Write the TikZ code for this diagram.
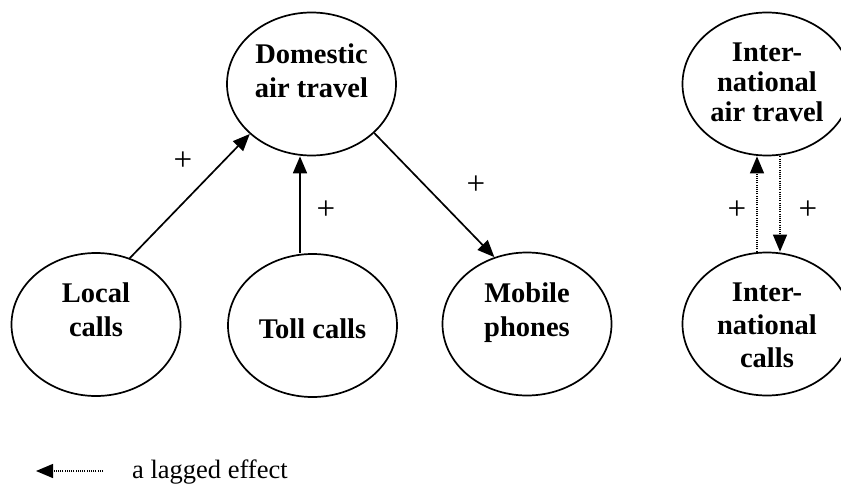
\documentclass[tikz,border=0pt]{standalone}
\usepackage{fontspec}
\setmainfont{Liberation Serif}
\usetikzlibrary{shapes.geometric,arrows.meta}
\begin{document}
\begin{tikzpicture}[x=1pt,y=-1pt,
  bubble/.style={draw,line width=1.7pt,ellipse,minimum width=169pt,minimum height=143pt,inner sep=0pt},
  caption/.style={anchor=north,inner sep=0pt,align=center,font=\bfseries\fontsize{28.5}{34}\selectfont},
  sign/.style={inner sep=0pt,font=\fontsize{33}{33}\selectfont},
  cause/.style={line width=1.7pt,-{Triangle[length=17pt,width=14pt]}},
  lagged/.style={line width=1.3pt,dash pattern=on 1pt off 1.2pt,-{Triangle[length=17pt,width=14pt]}}]
\useasboundingbox (0,0) rectangle (841,484);

% domestic cluster
\node[bubble] (dom) at (311.5,84) {};
\node[caption] (domt) at (311.5,43.5) {Domestic\\air travel};
\node[bubble] (local) at (96,324.5) {};
\node[caption] (localt) at (96,282.5) {Local\\calls};
\node[bubble] (toll) at (312.5,325.5) {};
\node[caption] (tollt) at (312.5,318.5) {Toll calls};
\node[bubble] (mob) at (527,324) {};
\node[caption] (mobt) at (527,282.5) {Mobile\\phones};

% international cluster
\node[bubble] (iair) at (767,84) {};
\node[caption,font=\bfseries\fontsize{28.5}{30}\selectfont] (iairt) at (767,42.5) {Inter-\\national\\air travel};
\node[bubble] (icall) at (767,324) {};
\node[caption,font=\bfseries\fontsize{28.5}{33}\selectfont] (icallt) at (767,282.5) {Inter-\\national\\calls};

% immediate effects
\draw[cause] (local.63) -- (dom.219.6);
\draw[cause] ([xshift=-12.5pt]toll.north) -- ([xshift=-11.5pt]dom.south);
\draw[cause] (dom.-38.5) -- (mob.116.6);

% lagged effects
\draw[lagged] ([xshift=-10pt]icall.north) -- ([xshift=-10pt]iair.south);
\draw[lagged] ([xshift=13pt]iair.south) -- ([xshift=13pt]icall.north);

% signs
\node[sign] (p1) at (183,161) {+};
\node[sign] (p2) at (326,210) {+};
\node[sign] (p3) at (476,185) {+};
\node[sign] (p4) at (737,210) {+};
\node[sign] (p5) at (808,210) {+};

% legend
\coordinate (lgA) at (103,471);
\coordinate (lgB) at (36,471);
\draw[lagged] (lgA) -- (lgB);
\node[anchor=base west,inner sep=0pt,font=\fontsize{26.5}{30}\selectfont] (lgt) at (132,478) {a lagged effect};
\end{tikzpicture}
\end{document}
